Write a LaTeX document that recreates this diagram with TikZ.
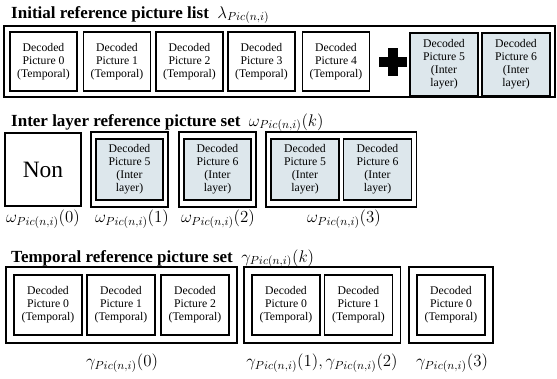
\documentclass[tikz,border=0pt]{standalone}
\usepackage{fontspec}
\setmainfont{Liberation Serif}
\usepackage{amsmath}
\usepackage{xcolor}
\definecolor{interbg}{RGB}{221,231,236}
\usepackage{tikz}
\usetikzlibrary{positioning, fit}

\newcommand{\picsub}{_{Pic(n,i)}}

\begin{document}
\begin{tikzpicture}[
  x=0.03cm, y=-0.03cm,
  heading/.style={anchor=base west, inner sep=0pt, font=\fontsize{14.5}{17}\selectfont\bfseries},
  decbox/.style={draw, line width=1.6pt, minimum width=2.01cm, minimum height=1.77cm, align=center, inner sep=1pt, font=\fontsize{10}{11}\selectfont},
  inter/.style={fill=interbg},
  setbox/.style={draw, line width=1.3pt, inner sep=0pt},
  setlabel/.style={font=\fontsize{14.5}{17}\selectfont},
]
\useasboundingbox (0,0) rectangle (557,378);

% Initial reference picture list
\node[heading] (ttlinit) at (11,18) {Initial reference picture list\enspace$\lambda\picsub$};
\node[decbox] (init0) at (43.5,61.5) {Decoded\\Picture 0\\(Temporal)};
\node[decbox] (init1) at (117,61.5) {Decoded\\Picture 1\\(Temporal)};
\node[decbox] (init2) at (189.5,61.5) {Decoded\\Picture 2\\(Temporal)};
\node[decbox] (init3) at (261.5,61.5) {Decoded\\Picture 3\\(Temporal)};
\node[decbox] (init4) at (336,61.5) {Decoded\\Picture 4\\(Temporal)};
\node[decbox, inter, minimum width=2.04cm, minimum height=1.89cm] (init5) at (444,64.5) {Decoded\\Picture 5\\(Inter\\layer)};
\node[decbox, inter, minimum width=2.04cm, minimum height=1.89cm] (init6) at (516,64.5) {Decoded\\Picture 6\\(Inter\\layer)};
\node[setbox, fit={(4,26) (555,97)}] (initlist) {};

% plus sign between temporal and inter layer pictures
\coordinate (plus) at (393,62);
\fill (plus) ++(-14,-5) rectangle ++(28,10);
\fill (plus) ++(-5,-14) rectangle ++(10,28);

% Inter layer reference picture set
\node[heading] (ttlinter) at (11,126) {Inter layer reference picture set\enspace$\omega\picsub(k)$};
\node[setbox, minimum width=2.28cm, minimum height=2.19cm, font=\fontsize{20}{24}\selectfont] (non) at (43,169.5) {Non};

\node[decbox, inter, minimum height=1.83cm] (il1) at (129.5,169.5) {Decoded\\Picture 5\\(Inter\\layer)};
\node[setbox, fit=(il1), inner xsep=0.12cm, inner ysep=0.18cm] (omega1) {};

\node[decbox, inter, minimum height=1.83cm] (il2) at (217.5,169.5) {Decoded\\Picture 6\\(Inter\\layer)};
\node[setbox, fit=(il2), inner xsep=0.12cm, inner ysep=0.18cm] (omega2) {};

\node[decbox, inter, minimum width=2.04cm, minimum height=1.83cm] (il3a) at (305,169.5) {Decoded\\Picture 5\\(Inter\\layer)};
\node[decbox, inter, minimum width=2.04cm, minimum height=1.83cm] (il3b) at (377.5,169.5) {Decoded\\Picture 6\\(Inter\\layer)};
\node[setbox, fit=(il3a) (il3b), inner xsep=0.12cm, inner ysep=0.18cm] (omega3) {};

\node[setlabel] (lblomega0) at (43,219) {$\omega\picsub(0)$};
\node[setlabel] (lblomega1) at (132,219) {$\omega\picsub(1)$};
\node[setlabel] (lblomega2) at (218,219) {$\omega\picsub(2)$};
\node[setlabel] (lblomega3) at (344,219) {$\omega\picsub(3)$};

% Temporal reference picture set
\node[heading] (ttltemp) at (11,262) {Temporal reference picture set\enspace$\gamma\picsub(k)$};
\node[decbox, minimum width=2.04cm, minimum height=1.8cm] (tp0) at (48,305) {Decoded\\Picture 0\\(Temporal)};
\node[decbox, minimum width=2.04cm, minimum height=1.8cm] (tp1) at (121,305) {Decoded\\Picture 1\\(Temporal)};
\node[decbox, minimum width=2.04cm, minimum height=1.8cm] (tp2) at (195,305) {Decoded\\Picture 2\\(Temporal)};
\node[setbox, line width=1.6pt, fit=(tp0) (tp2), inner sep=0.21cm] (gamma0) {};

\node[decbox, minimum width=2.04cm, minimum height=1.8cm] (tq0) at (286,305) {Decoded\\Picture 0\\(Temporal)};
\node[decbox, minimum width=2.04cm, minimum height=1.8cm] (tq1) at (358.5,305) {Decoded\\Picture 1\\(Temporal)};
\node[setbox, line width=1.6pt, fit=(tq0) (tq1), inner sep=0.21cm] (gamma12) {};

\node[decbox, minimum width=2.04cm, minimum height=1.8cm] (tr0) at (451,305) {Decoded\\Picture 0\\(Temporal)};
\node[setbox, line width=1.6pt, fit=(tr0), inner sep=0.21cm] (gamma3) {};

\node[setlabel] (lblgamma0) at (122,363) {$\gamma\picsub(0)$};
\node[setlabel] (lblgamma12) at (322,363) {$\gamma\picsub(1),\gamma\picsub(2)$};
\node[setlabel] (lblgamma3) at (452,363) {$\gamma\picsub(3)$};
\end{tikzpicture}
\end{document}
